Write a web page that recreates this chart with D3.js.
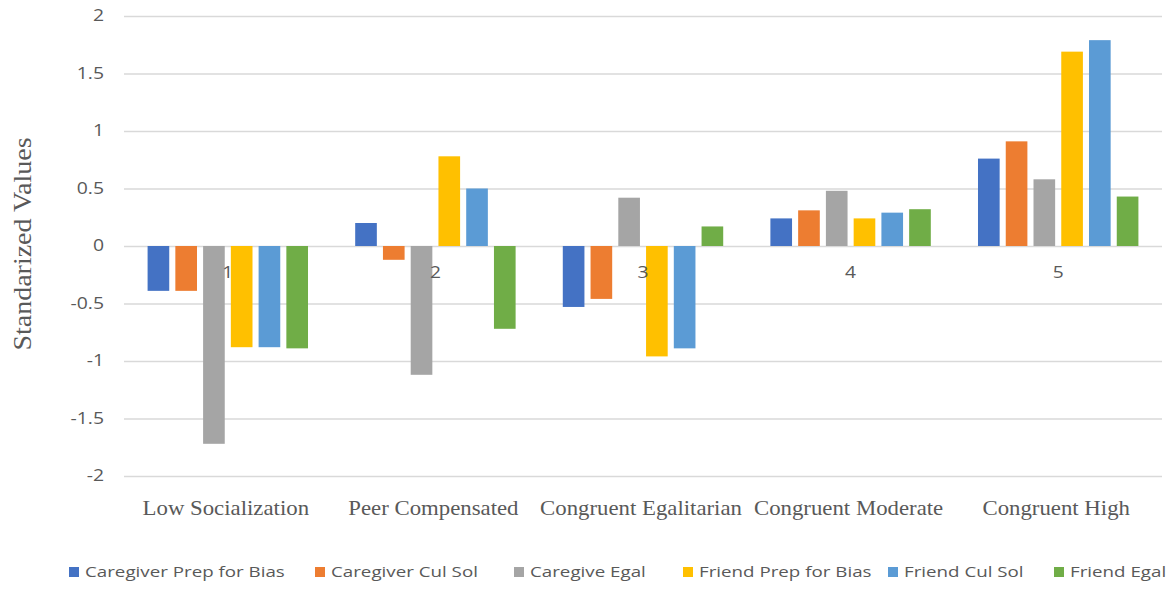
<!DOCTYPE html>
<html>
<head>
<meta charset="utf-8">
<script src="https://cdn.jsdelivr.net/npm/d3@7"></script>
<style>
  body { margin: 0; background: #fff; }
  svg { display: block; }
</style>
</head>
<body>
<div id="chart"></div>
<script>
// data
var groupNums = ["1", "2", "3", "4", "5"];
var groupNames = ["Low Socialization", "Peer Compensated", "Congruent Egalitarian", "Congruent Moderate", "Congruent High"];
var seriesNames = ["Caregiver Prep for Bias", "Caregiver Cul Sol", "Caregive Egal", "Friend Prep for Bias", "Friend Cul Sol", "Friend Egal"];
var seriesColors = ["#4472C4", "#ED7D31", "#A5A5A5", "#FFC000", "#5B9BD5", "#70AD47"];
var yTicks = [2, 1.5, 1, 0.5, 0, -0.5, -1, -1.5, -2];

var caregiverPrep = [-0.39, 0.20, -0.53, 0.24, 0.76];
var caregiverCul  = [-0.39, -0.12, -0.46, 0.31, 0.91];
var caregiveEgal  = [-1.72, -1.12, 0.42, 0.48, 0.58];
var friendPrep    = [-0.88, 0.78, -0.96, 0.24, 1.69];
var friendCul     = [-0.88, 0.50, -0.89, 0.29, 1.79];
var friendEgal    = [-0.89, -0.72, 0.17, 0.32, 0.43];
var allSeries = [caregiverPrep, caregiverCul, caregiveEgal, friendPrep, friendCul, friendEgal];

// Step 1: chart size
var svgWidth = 1172;
var svgHeight = 589;
var margin = { top: 16, right: 10, bottom: 113, left: 124 };
var width = 1162 - margin.left;
var height = svgHeight - margin.top - margin.bottom;

var svg = d3.select("#chart")
  .append("svg")
  .attr("width", svgWidth)
  .attr("height", svgHeight);

var chartGroup = svg.append("g")
  .attr("transform", `translate(${margin.left}, ${margin.top})`);

// Step 2: scales
var x0 = d3.scaleBand()
  .domain(groupNums)
  .range([0, width]);

var x1 = d3.scaleBand()
  .domain(seriesNames)
  .range([0, x0.bandwidth()])
  .paddingInner(0.22)
  .paddingOuter(0.85);

var yScale = d3.scaleLinear()
  .domain([-2, 2])
  .range([height, 0]);

// gridlines + tick labels (text is a bit wide in the original, so stretch it)
var leftAxis = d3.axisLeft(yScale)
  .tickValues(yTicks)
  .tickSize(-width)
  .tickPadding(16)
  .tickFormat(d => String(d));

var yAxisG = chartGroup.append("g").call(leftAxis);
yAxisG.select(".domain").remove();
yAxisG.selectAll("line")
  .attr("stroke", "#d9d9d9")
  .attr("stroke-width", 1.3);
yAxisG.selectAll("text")
  .attr("fill", "#595959")
  .attr("transform", "scale(1.25,1)")
  .style("font-family", "'Open Sans', sans-serif")
  .style("font-size", "15.5px");

// Step 3: bars
var rows = [];
groupNums.forEach(function(g, i) {
  seriesNames.forEach(function(s, j) {
    rows.push({ group: g, series: s, value: allSeries[j][i], color: seriesColors[j] });
  });
});

chartGroup.selectAll("rect.bar")
  .data(rows)
  .enter()
  .append("rect")
  .attr("class", "bar")
  .attr("x", d => x0(d.group) + x1(d.series))
  .attr("width", x1.bandwidth())
  .attr("y", d => yScale(Math.max(0, d.value)))
  .attr("height", d => Math.abs(yScale(d.value) - yScale(0)))
  .attr("fill", d => d.color);

// category axis labels sit at zero
var bottomAxis = d3.axisBottom(x0).tickSize(0).tickPadding(21);
var xAxisG = chartGroup.append("g")
  .attr("transform", `translate(0, ${yScale(0)})`)
  .call(bottomAxis);
xAxisG.select(".domain").remove();
xAxisG.selectAll("text")
  .attr("fill", "#595959")
  .attr("transform", "scale(1.2,1)")
  .style("font-family", "'Open Sans', sans-serif")
  .style("font-size", "16px");

// group names under the plot
chartGroup.selectAll("text.gname")
  .data(groupNames)
  .enter()
  .append("text")
  .attr("class", "gname")
  .attr("transform", (d, i) => `translate(${x0(groupNums[i]) + x0.bandwidth() / 2 - 2}, 499) scale(1.14,1)`)
  .attr("text-anchor", "middle")
  .attr("fill", "#595959")
  .style("font-family", "'Liberation Serif', 'Times New Roman', serif")
  .style("font-size", "20px")
  .text(d => d);

// y axis title
svg.append("text")
  .attr("transform", "translate(31, 244) rotate(-90) scale(1.12,1)")
  .attr("text-anchor", "middle")
  .attr("fill", "#595959")
  .style("font-family", "'Liberation Serif', 'Times New Roman', serif")
  .style("font-size", "25px")
  .text("Standarized Values");

// legend
var legendX = [69, 315, 514, 683, 888, 1054];
var legend = svg.selectAll("g.legend")
  .data(seriesNames)
  .enter()
  .append("g")
  .attr("class", "legend")
  .attr("transform", (d, i) => `translate(${legendX[i]}, 567)`);

legend.append("rect")
  .attr("width", 10)
  .attr("height", 10)
  .attr("fill", (d, i) => seriesColors[i]);

legend.append("text")
  .attr("transform", "translate(16, 10) scale(1.25,1)")
  .attr("fill", "#595959")
  .style("font-family", "'Open Sans', sans-serif")
  .style("font-size", "15px")
  .text(d => d);
</script>
</body>
</html>
